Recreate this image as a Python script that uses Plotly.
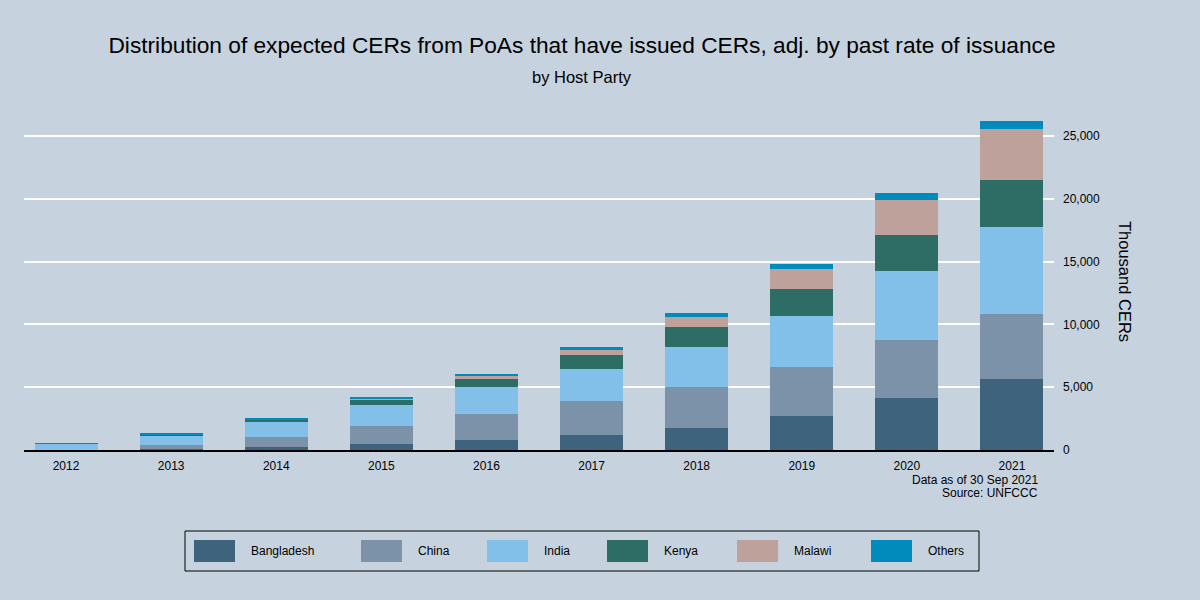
import plotly.graph_objects as go

# expected CERs (thousand) by host party
years = ["2012", "2013", "2014", "2015", "2016", "2017", "2018", "2019", "2020", "2021"]
bangladesh = [0, 80, 240, 500, 800, 1170, 1725, 2680, 4120, 5640]
china = [0, 320, 795, 1435, 2090, 2705, 3290, 3900, 4610, 5160]
india = [480, 770, 1255, 1645, 2125, 2545, 3160, 4060, 5495, 6930]
kenya = [0, 80, 130, 420, 615, 1120, 1590, 2150, 2865, 3740]
malawi = [0, 0, 0, 40, 240, 395, 795, 1590, 2785, 4060]
others = [70, 100, 130, 180, 180, 265, 320, 400, 560, 640]

parties = ["Bangladesh", "China", "India", "Kenya", "Malawi", "Others"]
series = [bangladesh, china, india, kenya, malawi, others]
colors = ["#3E647D", "#7B92A8", "#82C0E9", "#2D6D66", "#BFA19C", "#008BBC"]

y_ticks = [0, 5000, 10000, 15000, 20000, 25000]

BG = "#C6D3DF"
FONT = "Liberation Sans, Arial, sans-serif"

# plot area in pixels (for placing the hand drawn legend and notes)
L, R, T, B = 24, 1054, 111, 450


def px(x):
    return (x - L) / (R - L)


def py(y):
    return (B - y) / (B - T)


def note(text, x, y, size=12, **kw):
    fig.add_annotation(text=text, xref="paper", yref="paper",
                       x=px(x), y=py(y), yanchor="middle", showarrow=False,
                       font=dict(size=size), **kw)


fig = go.Figure()
for name, vals, col in zip(parties, series, colors):
    fig.add_trace(go.Bar(x=years, y=vals, name=name,
                         marker=dict(color=col, line=dict(width=0)),
                         showlegend=False))

fig.update_layout(
    barmode="stack",
    bargap=0.4,
    width=1200, height=600,
    paper_bgcolor=BG, plot_bgcolor=BG,
    font=dict(family=FONT, size=12, color="black"),
    margin=dict(l=L, r=1200 - R, t=T, b=600 - B),
    title=dict(text="Distribution of expected CERs from PoAs that have issued CERs, adj. by past rate of issuance",
               font=dict(size=22.7, color="black"),
               xref="container", x=0.485, xanchor="center",
               yref="container", y=1 - 45 / 600, yanchor="middle"),
)

fig.update_xaxes(type="category", range=[-0.4, 9.4], showgrid=False,
                 showline=True, linecolor="black", linewidth=1.5,
                 ticks="", ticklabelstandoff=4, tickfont=dict(size=12))
fig.update_yaxes(side="right", range=[0, 27000], tickvals=y_ticks,
                 tickformat=",", showgrid=True, gridcolor="white", gridwidth=2,
                 zeroline=False, ticks="", ticklabelstandoff=8,
                 tickfont=dict(size=12))

# subtitle, axis title and source notes
note("by Host Party", 582, 77, size=16.5, xanchor="center")
note("Thousand CERs", 1125, 281, size=16.5, xanchor="center", textangle=90)
note("Data as of 30 Sep 2021", 1040, 480, xanchor="right")
note("Source: UNFCCC", 1040, 493, xanchor="right")

# legend drawn by hand so the swatches are as big as in the original
fig.add_shape(type="rect", xref="paper", yref="paper",
              x0=px(185), x1=px(979), y0=py(531), y1=py(571),
              line=dict(color="black", width=1), fillcolor=BG, layer="below")
swatch_left = [194, 361, 487, 607, 737, 871]
for name, col, x0 in zip(parties, colors, swatch_left):
    fig.add_shape(type="rect", xref="paper", yref="paper",
                  x0=px(x0), x1=px(x0 + 41), y0=py(540), y1=py(562),
                  line=dict(width=0), fillcolor=col)
    note(name, x0 + 55, 551, xanchor="left")

# drop the default page margin so the 1200x600 figure fills the window
fig.write_html("out.html", config={"displayModeBar": False},
               post_script="document.body.style.margin = '0';")
